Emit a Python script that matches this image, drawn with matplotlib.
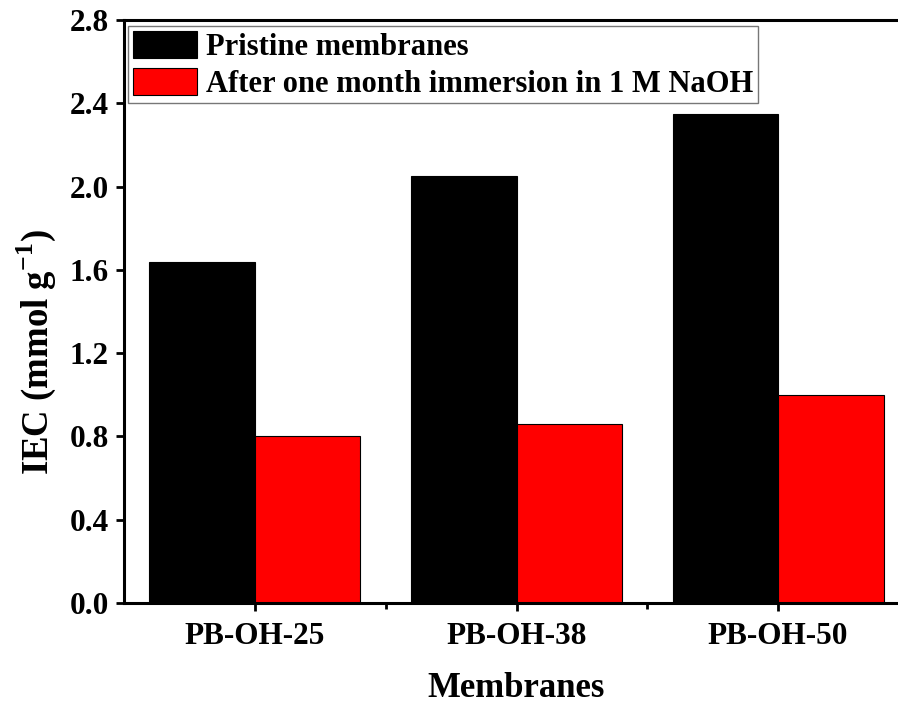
import matplotlib
matplotlib.use("Agg")
import matplotlib.pyplot as plt
import numpy as np
from matplotlib.ticker import FixedLocator

plt.rcParams['font.family'] = ['Liberation Serif', 'DejaVu Serif']
plt.rcParams['font.weight'] = 'bold'
plt.rcParams['mathtext.fontset'] = 'custom'
plt.rcParams['mathtext.rm'] = 'Liberation Serif:bold'
plt.rcParams['mathtext.bf'] = 'Liberation Serif:bold'

categories = ["PB-OH-25", "PB-OH-38", "PB-OH-50"]
pristine = [1.64, 2.05, 2.35]
after_naoh = [0.80, 0.86, 1.00]
series_labels = ["Pristine membranes", "After one month immersion in 1 M NaOH"]
yticks = [0.0, 0.4, 0.8, 1.2, 1.6, 2.0, 2.4, 2.8]

fig = plt.figure(figsize=(8.98, 7.06), dpi=100)
ax = fig.add_axes([124 / 898, 1 - 603 / 706, 785 / 898, 583 / 706])

x = np.arange(len(categories))
w = 0.403
ax.bar(x - w / 2, pristine, width=w, color='black', edgecolor='black',
       linewidth=0.8, label=series_labels[0])
ax.bar(x + w / 2, after_naoh, width=w, color='#ff0000', edgecolor='black',
       linewidth=0.8, label=series_labels[1])

ax.set_xlim(-0.5, len(categories) - 0.5)
ax.set_ylim(0, 2.8)
ax.set_yticks(yticks)
ax.set_yticklabels([f"{v:.1f}" for v in yticks])
ax.set_xticks(x)
ax.set_xticklabels(categories)
ax.xaxis.set_minor_locator(FixedLocator(x[:-1] + 0.5))

for s in ['left', 'bottom', 'top', 'right']:
    ax.spines[s].set_linewidth(2.2)

ax.tick_params(axis='both', which='major', direction='out', width=2, length=6,
               labelsize=22.5, pad=5)
ax.tick_params(axis='x', which='minor', direction='out', width=2, length=4)
ax.tick_params(axis='x', which='major', pad=8)
for lab in ax.get_xticklabels() + ax.get_yticklabels():
    lab.set_fontweight('bold')

ax.set_xlabel("Membranes", fontsize=25, fontweight='bold', labelpad=15)
ax.set_ylabel(r"IEC (mmol g$^{\mathbf{-1}}$)", fontsize=26.5, fontweight='bold')
ax.yaxis.set_label_coords(-0.084, 0.43)

leg = ax.legend(loc='upper left', bbox_to_anchor=(0.005, 0.989), fontsize=22,
                frameon=True, fancybox=False, edgecolor='#555555',
                handlelength=2.1, handleheight=1.0, borderpad=0.15,
                labelspacing=0.18, handletextpad=0.3, borderaxespad=0.0,
                prop={'weight': 'bold', 'size': 22})
leg.get_frame().set_linewidth(1.0)

fig.savefig("out.png", dpi=100)
